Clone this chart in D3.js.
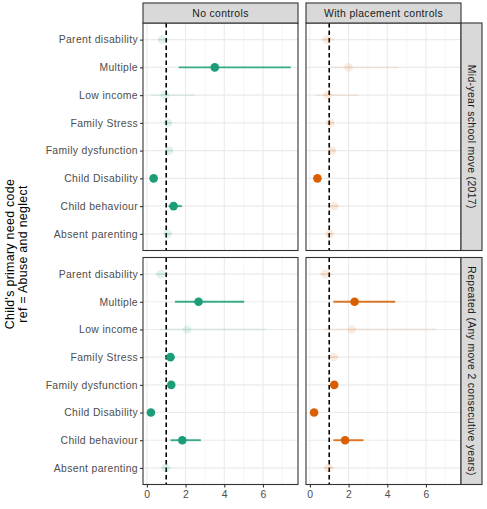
<!DOCTYPE html>
<html><head><meta charset="utf-8">
<script src="https://cdn.jsdelivr.net/npm/d3@7"></script>
<style>body{margin:0;background:#fff}svg{display:block}</style>
</head><body>
<script>
const categories = ["Parent disability","Multiple","Low income","Family Stress","Family dysfunction","Child Disability","Child behaviour","Absent parenting"];
const colTitles = ["No controls","With placement controls"];
const rowTitles = ["Mid-year school move (2017)","Repeated (Any move 2 consecutive years)"];
const xTicks = [0,2,4,6];
const xMinor = [1,3,5,7];
const refLine = 1;

const midNoCtrlEst = [0.79, 3.51, 0.93, 1.09, 1.15, 0.35, 1.38, 1.07];
const midNoCtrlLo  = [0.55, 1.65, 0.24, 0.95, 1.00, 0.25, 1.12, 0.90];
const midNoCtrlHi  = [1.10, 7.44, 2.48, 1.30, 1.35, 0.48, 1.81, 1.30];
const midNoCtrlSig = [0,1,0,0,0,1,1,0];

const midCtrlEst = [0.88, 2.00, 0.91, 1.05, 1.15, 0.39, 1.26, 1.01];
const midCtrlLo  = [0.60, 1.10, 0.31, 0.90, 1.00, 0.28, 1.05, 0.85];
const midCtrlHi  = [1.25, 4.55, 2.50, 1.25, 1.35, 0.52, 1.50, 1.20];
const midCtrlSig = [0,0,0,0,0,1,0,0];

const repNoCtrlEst = [0.72, 2.67, 2.08, 1.22, 1.26, 0.21, 1.83, 0.97];
const repNoCtrlLo  = [0.45, 1.45, 0.67, 1.05, 1.08, 0.14, 1.22, 0.75];
const repNoCtrlHi  = [1.10, 5.03, 6.15, 1.42, 1.45, 0.30, 2.79, 1.25];
const repNoCtrlSig = [0,1,0,1,1,1,1,0];

const repCtrlEst = [0.79, 2.31, 2.17, 1.22, 1.26, 0.22, 1.82, 0.96];
const repCtrlLo  = [0.50, 1.22, 0.72, 1.02, 1.08, 0.14, 1.22, 0.72];
const repCtrlHi  = [1.20, 4.41, 6.50, 1.45, 1.45, 0.32, 2.77, 1.25];
const repCtrlSig = [0,1,0,0,1,1,1,0];

const colours = ["#1b9e77","#d95f02"];

const panels = [
  {row:0,col:0,est:midNoCtrlEst,lo:midNoCtrlLo,hi:midNoCtrlHi,sig:midNoCtrlSig},
  {row:0,col:1,est:midCtrlEst,lo:midCtrlLo,hi:midCtrlHi,sig:midCtrlSig},
  {row:1,col:0,est:repNoCtrlEst,lo:repNoCtrlLo,hi:repNoCtrlHi,sig:repNoCtrlSig},
  {row:1,col:1,est:repCtrlEst,lo:repCtrlLo,hi:repCtrlHi,sig:repCtrlSig}
];

const W=487,H=509;
const colX=[[143,298],[306,461]];
const rowY=[[23,250.5],[257.5,484.5]];
const font="'Liberation Sans', Arial, sans-serif";
const fs="10.4px", ls="0.35px";

const svg=d3.select("body").append("svg").attr("width",W).attr("height",H)
  .style("font-family",font);

const xScales=colX.map(r=>d3.scaleLinear().domain([-0.2,7.81]).range(r));
const yScales=rowY.map(r=>d3.scalePoint().domain(categories).range(r).padding(0.6));

panels.forEach(p=>{
  const x=xScales[p.col], y=yScales[p.row];
  const g=svg.append("g");
  const [x0,x1]=colX[p.col],[y0,y1]=rowY[p.row];
  g.append("rect").attr("x",x0).attr("y",y0).attr("width",x1-x0).attr("height",y1-y0).attr("fill","#fff");
  g.selectAll(".minor").data(xMinor).join("line")
    .attr("x1",d=>x(d)).attr("x2",d=>x(d)).attr("y1",y0).attr("y2",y1)
    .attr("stroke","#f0f0f0").attr("stroke-width",0.6);
  g.selectAll(".major").data(xTicks).join("line")
    .attr("x1",d=>x(d)).attr("x2",d=>x(d)).attr("y1",y0).attr("y2",y1)
    .attr("stroke","#ebebeb").attr("stroke-width",1.1);
  g.selectAll(".hgrid").data(categories).join("line")
    .attr("x1",x0).attr("x2",x1).attr("y1",d=>y(d)).attr("y2",d=>y(d))
    .attr("stroke","#ebebeb").attr("stroke-width",1.1);

  g.append("line").attr("x1",x(refLine)).attr("x2",x(refLine)).attr("y1",y0).attr("y2",y1)
    .attr("stroke","#000").attr("stroke-width",1.6).attr("stroke-dasharray","4.5,3");

  const data=categories.map((c,i)=>({c,est:p.est[i],lo:p.lo[i],hi:p.hi[i],sig:p.sig[i]}));
  const col=colours[p.col];
  g.selectAll(".ci").data(data).join("line")
    .attr("x1",d=>x(d.lo)).attr("x2",d=>x(d.hi)).attr("y1",d=>y(d.c)).attr("y2",d=>y(d.c))
    .attr("stroke",col).attr("stroke-width",1.9).attr("opacity",d=>d.sig?0.85:0.1);
  g.selectAll(".pt").data(data).join("circle")
    .attr("cx",d=>x(d.est)).attr("cy",d=>y(d.c)).attr("r",4.3)
    .attr("fill",col).attr("opacity",d=>d.sig?1:0.12);

  g.append("rect").attr("x",x0).attr("y",y0).attr("width",x1-x0).attr("height",y1-y0)
    .attr("fill","none").attr("stroke","#333").attr("stroke-width",1.1);
});

rowY.forEach((r,ri)=>{
  const ax=d3.axisLeft(yScales[ri]).tickSize(3).tickPadding(2);
  const g=svg.append("g").attr("transform",`translate(${colX[0][0]},0)`).call(ax);
  g.select(".domain").remove();
  g.selectAll(".tick line").attr("stroke","#333").attr("stroke-width",1.1);
  g.selectAll(".tick text").attr("fill","#4d4d4d").style("font-size",fs).style("letter-spacing",ls).style("font-family",font);
});
colX.forEach((c,ci)=>{
  const ax=d3.axisBottom(xScales[ci]).tickValues(xTicks).tickSize(3).tickPadding(3.5).tickFormat(d3.format("d"));
  const g=svg.append("g").attr("transform",`translate(0,${rowY[1][1]})`).call(ax);
  g.select(".domain").remove();
  g.selectAll(".tick line").attr("stroke","#333").attr("stroke-width",1.1);
  g.selectAll(".tick text").attr("fill","#4d4d4d").style("font-size",fs).style("letter-spacing",ls).style("font-family",font);
});

colTitles.forEach((t,ci)=>{
  const [x0,x1]=colX[ci];
  svg.append("rect").attr("x",x0).attr("y",3).attr("width",x1-x0).attr("height",20)
    .attr("fill","#d9d9d9").attr("stroke","#333").attr("stroke-width",1.1);
  svg.append("text").attr("x",(x0+x1)/2).attr("y",13).attr("dy","0.35em")
    .attr("text-anchor","middle").attr("fill","#1a1a1a").style("font-size",fs).style("letter-spacing",ls).text(t);
});
rowTitles.forEach((t,ri)=>{
  const [y0,y1]=rowY[ri];
  svg.append("rect").attr("x",461).attr("y",y0).attr("width",21).attr("height",y1-y0)
    .attr("fill","#d9d9d9").attr("stroke","#333").attr("stroke-width",1.1);
  svg.append("text").attr("transform",`translate(471.5,${(y0+y1)/2}) rotate(90)`).attr("dy","0.35em")
    .attr("text-anchor","middle").attr("fill","#1a1a1a").style("font-size",fs).style("letter-spacing",ls).text(t);
});

const yt=svg.append("text").attr("transform",`translate(10,254) rotate(-90)`)
  .attr("text-anchor","middle").attr("fill","#000").style("font-size","12.4px").style("letter-spacing","0.3px");
yt.append("tspan").attr("x",0).attr("dy","0.35em").text("Child's primary need code");
yt.append("tspan").attr("x",0).attr("dy","1.05em").text("ref = Abuse and neglect");
</script>
</body></html>
